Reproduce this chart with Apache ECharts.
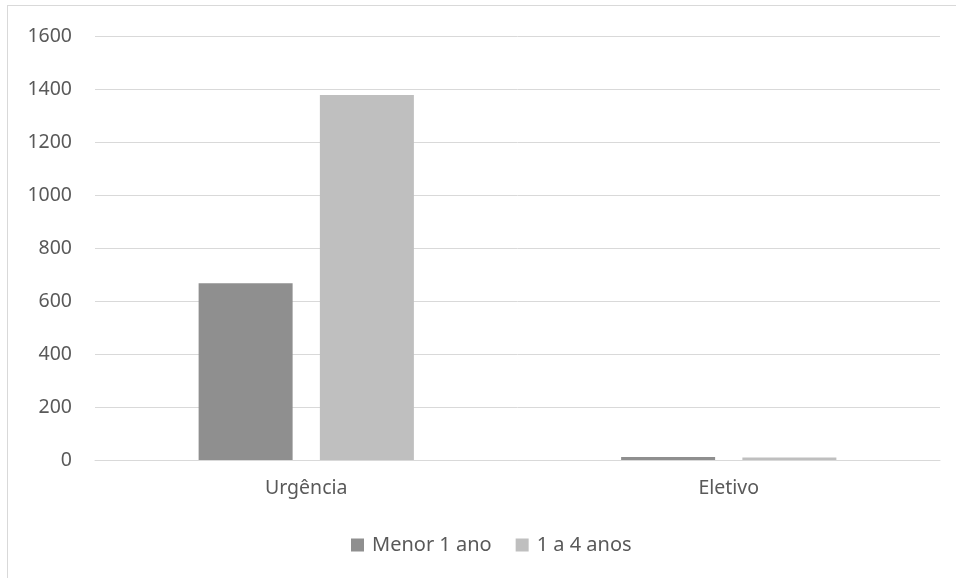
<!DOCTYPE html>
<html><head><meta charset="utf-8">
<script src="https://cdn.jsdelivr.net/npm/echarts@6/dist/echarts.min.js"></script>
<style>html,body{margin:0;padding:0;background:#fff;}
#frame{position:absolute;left:7px;top:5px;width:956px;height:578px;border:1px solid #d9d9d9;box-sizing:border-box;}
#c{position:absolute;left:0;top:0;width:956px;height:578px;}</style>
</head><body>
<div id="frame"></div>
<div id="c"></div>
<script>
var categories = ['Urgência', 'Eletivo'];
var menor1 = [667, 11];
var um4 = [1377, 9];
var seriesNames = ['Menor 1 ano', '1 a 4 anos'];
var chart = echarts.init(document.getElementById('c'));
var font = 'Noto Sans';
chart.setOption({
  animation: false,
  grid: {left: 95, right: 16, top: 36, bottom: 118},
  legend: {top: 530, left: 346, itemWidth: 13, itemHeight: 13, itemGap: 24,
    icon: 'rect', textStyle: {color: '#595959', fontFamily: font, fontSize: 20, padding: [0, 0, 0, 3]},
    data: seriesNames},
  xAxis: {type: 'category', data: categories,
    axisLine: {lineStyle: {color: '#d9d9d9'}}, axisTick: {show: false},
    axisLabel: {color: '#595959', fontFamily: font, fontSize: 19.5, margin: 18}},
  yAxis: {type: 'value', min: 0, max: 1600, interval: 200,
    axisLine: {show: false}, axisTick: {show: false},
    splitLine: {lineStyle: {color: '#d9d9d9'}},
    axisLabel: {color: '#595959', fontFamily: font, fontSize: 19.5, margin: 23, align: 'right',
      formatter: function (v) { return String(v); }}},
  series: [
    {name: seriesNames[0], type: 'bar', data: menor1, barWidth: 94, barGap: '29%',
     itemStyle: {color: '#8f8f8f'}},
    {name: seriesNames[1], type: 'bar', data: um4, barWidth: 94,
     itemStyle: {color: '#bfbfbf'}}
  ]
});
</script>
</body></html>
